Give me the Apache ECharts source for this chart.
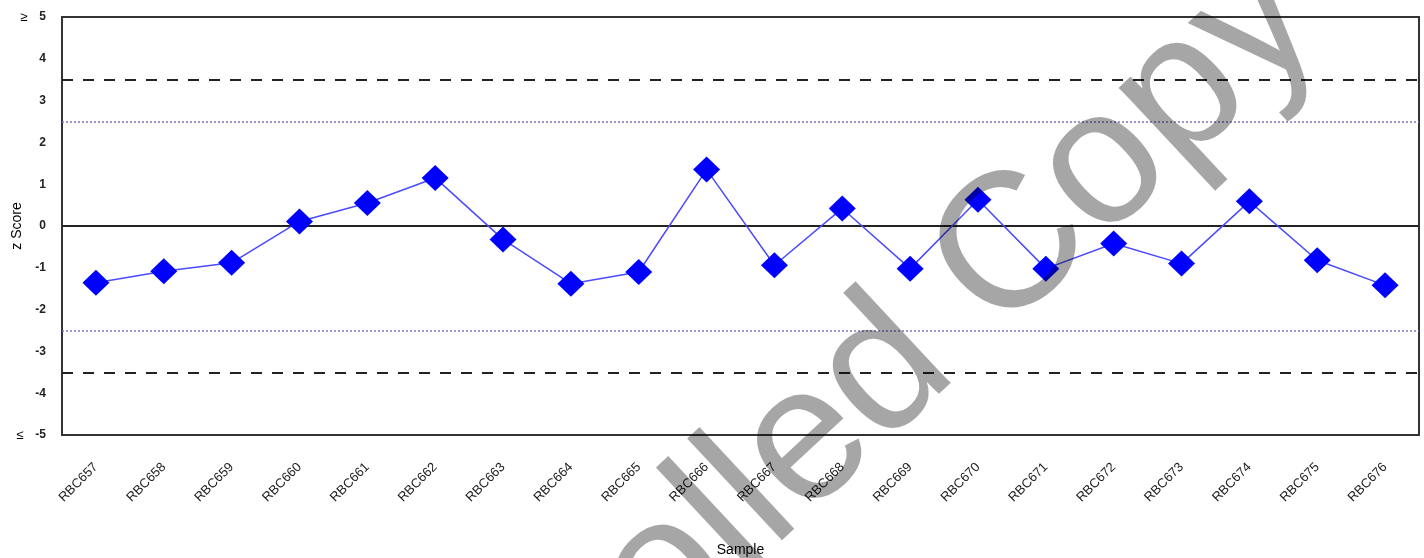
<!DOCTYPE html>
<html>
<head>
<meta charset="utf-8">
<script src="https://cdn.jsdelivr.net/npm/echarts@6/dist/echarts.min.js"></script>
<style>
html,body{margin:0;padding:0;background:#fff;}
#chart{width:1424px;height:558px;}
</style>
</head>
<body>
<div id="chart"></div>
<script>
const categories = ['RBC657','RBC658','RBC659','RBC660','RBC661','RBC662','RBC663','RBC664','RBC665','RBC666',
                    'RBC667','RBC668','RBC669','RBC670','RBC671','RBC672','RBC673','RBC674','RBC675','RBC676'];
const zScores = [-1.36,-1.08,-0.88,0.11,0.55,1.15,-0.32,-1.38,-1.10,1.35,
                 -0.94,0.42,-1.02,0.63,-1.02,-0.42,-0.90,0.59,-0.82,-1.42];
const actionLimits = [3.5, -3.5];
const warningLimits = [2.5, -2.5];
const centerLine = [0];
const yMin = -5, yMax = 5, yStep = 1;
const xAxisTitle = 'Sample';
const yAxisTitle = 'z Score';
const watermark = 'Uncontrolled Copy';

const font = '"Liberation Sans", Arial, sans-serif';
const chart = echarts.init(document.getElementById('chart'), null, {renderer:'canvas'});

const markData = []
  .concat(actionLimits.map(v => ({yAxis:v, lineStyle:{color:'#222', width:2, type:[11,10]}})))
  .concat(warningLimits.map(v => ({yAxis:v, lineStyle:{color:'#7b74c4', width:1.5, type:[2,2]}})))
  .concat(centerLine.map(v => ({yAxis:v, lineStyle:{color:'#222', width:2, type:'solid'}})));

chart.setOption({
  animation:false,
  backgroundColor:'#fff',
  grid:{left:62, right:5, top:17, bottom:123, containLabel:false, outerBoundsMode:'none',
        show:true, borderColor:'#333', borderWidth:2, backgroundColor:'transparent'},
  xAxis:{
    type:'category', data:categories, boundaryGap:true,
    axisLine:{show:false}, axisTick:{show:false}, splitLine:{show:false},
    axisLabel:{rotate:45, margin:30, fontSize:13, color:'#222', fontFamily:font, interval:0},
    name:xAxisTitle, nameLocation:'middle', nameGap:108, nameMoveOverlap:false,
    nameTextStyle:{fontSize:14, color:'#000', fontFamily:font}
  },
  yAxis:{
    type:'value', min:yMin, max:yMax, interval:yStep,
    axisLine:{show:false}, axisTick:{show:false}, splitLine:{show:false},
    axisLabel:{
      margin:16, fontSize:12, fontWeight:'bold', color:'#222', fontFamily:font,
      formatter:function(v){
        if (v === yMax) return '{g|≥}' + v;
        if (v === yMin) return '{g|≤}' + v;
        return String(v);
      },
      rich:{g:{fontSize:13, fontWeight:'normal', color:'#000', fontFamily:font, padding:[0,12,0,0]}}
    },
    name:yAxisTitle, nameLocation:'middle', nameGap:38, nameRotate:90, nameMoveOverlap:false,
    nameTextStyle:{fontSize:14, color:'#000', fontFamily:font}
  },
  series:[{
    type:'line', data:zScores,
    symbol:'diamond', symbolSize:[27,26],
    lineStyle:{color:'#4a4aff', width:1.5},
    itemStyle:{color:'#0000ff'},
    z:5,
    markLine:{silent:true, symbol:['none','none'], label:{show:false}, data:markData, z:2}
  }],
  graphic:[{
    type:'text', x:713, y:532, rotation:43 * Math.PI / 180, z:100, silent:true,
    style:{text:watermark, font:'192px ' + font, fill:'rgba(0,0,0,0.35)', align:'center', verticalAlign:'middle'}
  }]
});
</script>
</body>
</html>
